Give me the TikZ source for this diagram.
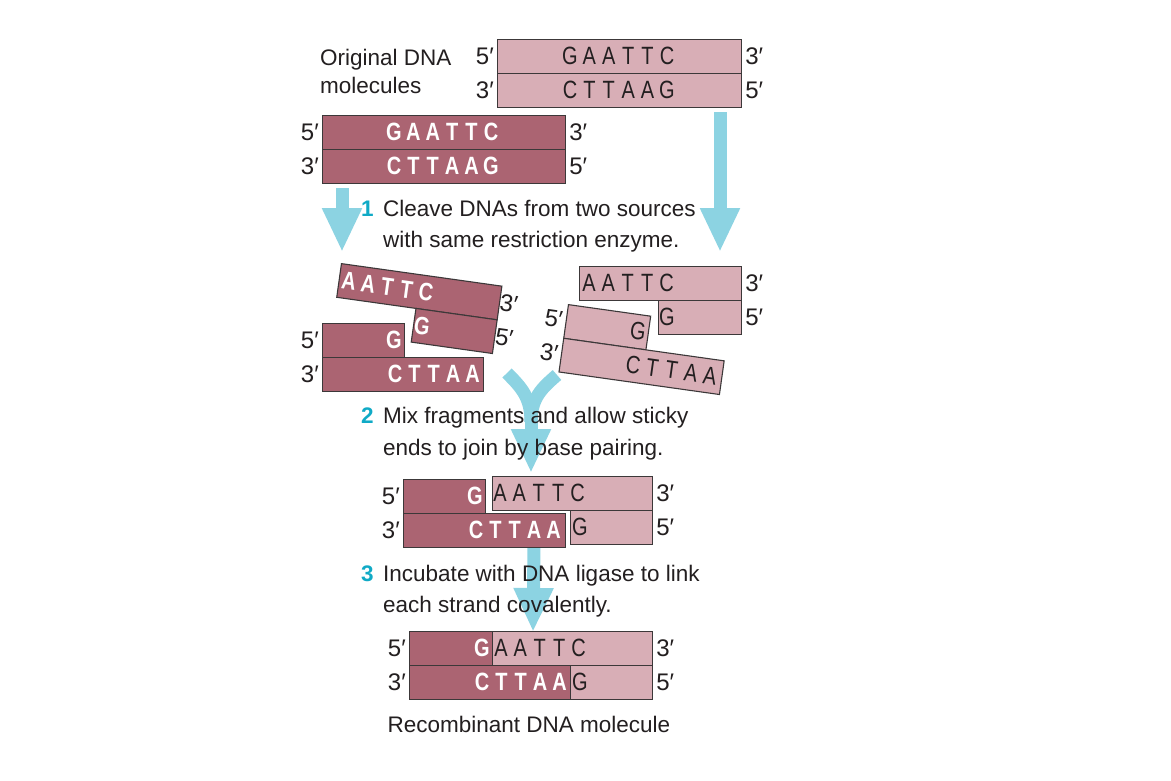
\documentclass[tikz,border=0pt]{standalone}
\usepackage{fontspec}
\setmainfont{Liberation Sans}
\newfontfamily\basefont{Liberation Sans}[FakeStretch=0.8]
\usepackage{xcolor}
\usetikzlibrary{arrows.meta, positioning}

\definecolor{dnadark}{RGB}{171,100,114}
\definecolor{dnalight}{RGB}{216,174,182}
\definecolor{flowcyan}{RGB}{140,211,226}
\definecolor{stepcyan}{RGB}{16,170,198}
\definecolor{ink}{RGB}{35,31,32}
\definecolor{edge}{RGB}{60,56,57}

% letters of a strand, 19.4pt apart
\newcommand{\bases}[5]{%
  \foreach \b [count=\i] in {#5}
    \node[#4] (#1\i) at ({#2+19.4*(\i-1)},#3) {\b};}

\begin{document}
\begin{tikzpicture}[x=1pt, y=-1pt,
    strand/.style={draw=edge, line width=1.1pt, minimum height=34pt, inner sep=0pt, anchor=north west},
    dk/.style={strand, fill=dnadark},
    lt/.style={strand, fill=dnalight},
    ltchar/.style={font=\basefont\fontsize{25}{25}\selectfont, text=ink, inner sep=0pt},
    dkchar/.style={font=\basefont\bfseries\fontsize{25}{25}\selectfont, text=white, inner sep=0pt},
    endlbl/.style={font=\fontsize{24}{24}\selectfont, text=ink, inner sep=0pt},
    caption/.style={font=\fontsize{22.5}{27}\selectfont, text=ink, inner sep=0pt, anchor=base west},
    stepno/.style={font=\bfseries\fontsize{22.5}{27}\selectfont, text=stepcyan, inner sep=0pt, anchor=base west},
    flowline/.style={draw=flowcyan, line width=13pt},
    flow/.style={flowline, -{Triangle[width=37pt,length=44pt]}}]
  \fill[white] (0,0) rectangle (1171,780);
  \useasboundingbox (0,0) rectangle (1171,780);

  % Setas
  \coordinate (cutL-from) at (342,188);
  \coordinate (cutL-to) at (342,252);
  \coordinate (cutR-from) at (720,112);
  \coordinate (cutR-to) at (720,252);
  \coordinate (mixL) at (507,373);
  \coordinate (mixR) at (557,375);
  \coordinate (mixJoin) at (531,422);
  \coordinate (mixM) at (531,412);
  \coordinate (mix-to) at (531,473);
  \coordinate (lig-from) at (534,547);
  \coordinate (lig-to) at (533,632);
  \draw[flow] (cutL-from) -- (cutL-to);
  \draw[flow] (cutR-from) -- (cutR-to);
  \draw[flowline] (mixL) .. controls (522,388) and (531,398) .. (mixJoin);
  \draw[flowline] (mixR) .. controls (542,388) and (531,398) .. (mixJoin);
  \draw[flow] (mixM) -- (mix-to);
  \draw[flow] (lig-from) -- (lig-to);

  % Moleculas originais
  \node[lt, minimum width=244pt] (b-top) at (497,39) {};
  \node[lt, minimum width=244pt] (b-bot) at (497,73) {};
  \bases{bt}{570}{56}{ltchar}{G,A,A,T,T,C}
  \bases{bb}{570}{90}{ltchar}{C,T,T,A,A,G}
  \node[endlbl, left=3pt of b-top] (b-top-l) {5′};
  \node[endlbl, left=3pt of b-bot] (b-bot-l) {3′};
  \node[endlbl, right=3pt of b-top] (b-top-r) {3′};
  \node[endlbl, right=3pt of b-bot] (b-bot-r) {5′};

  \node[dk, minimum width=243pt] (a-top) at (322,115) {};
  \node[dk, minimum width=243pt] (a-bot) at (322,149) {};
  \bases{at}{394}{132}{dkchar}{G,A,A,T,T,C}
  \bases{ab}{394}{166}{dkchar}{C,T,T,A,A,G}
  \node[endlbl, left=3pt of a-top] (a-top-l) {5′};
  \node[endlbl, left=3pt of a-bot] (a-bot-l) {3′};
  \node[endlbl, right=3pt of a-top] (a-top-r) {3′};
  \node[endlbl, right=3pt of a-bot] (a-bot-r) {5′};

  % Fragmentos
  \node[dk, minimum width=82pt] (al-top) at (322,323) {};
  \node[dk, minimum width=161pt] (al-bot) at (322,357) {};
  \bases{alt}{394}{340}{dkchar}{G}
  \bases{alb}{395}{374}{dkchar}{C,T,T,A,A}
  \node[endlbl, left=3pt of al-top] (al-top-l) {5′};
  \node[endlbl, left=3pt of al-bot] (al-bot-l) {3′};

  \begin{scope}[shift={(341,263)}, rotate=-8, transform shape]
    \node[dk, minimum width=162pt] (ar-top) at (0,0) {};
    \node[dk, minimum width=82pt] (ar-bot) at (80,34) {};
    \bases{art}{10.5}{17}{dkchar}{A,A,T,T,C}
    \bases{arb}{89}{51}{dkchar}{G}
    \node[endlbl] (ar-top-r) at (172,17) {3′};
    \node[endlbl] (ar-bot-r) at (172,51) {5′};
  \end{scope}

  \node[lt, minimum width=162pt] (br-top) at (579,266) {};
  \node[lt, minimum width=83pt] (br-bot) at (658,300) {};
  \bases{brt}{589}{283}{ltchar}{A,A,T,T,C}
  \bases{brb}{667}{317}{ltchar}{G}
  \node[endlbl, right=3pt of br-top] (br-top-r) {3′};
  \node[endlbl, right=3pt of br-bot] (br-bot-r) {5′};

  \begin{scope}[shift={(568,304)}, rotate=-8, transform shape]
    \node[lt, minimum width=83pt] (bl-top) at (0,0) {};
    \node[lt, minimum width=162pt] (bl-bot) at (0,34) {};
    \bases{blt}{73}{17}{ltchar}{G}
    \bases{blb}{73}{51}{ltchar}{C,T,T,A,A}
    \node[endlbl] (bl-top-l) at (-12,17) {5′};
    \node[endlbl] (bl-bot-l) at (-12,51) {3′};
  \end{scope}

  % Pareamento
  \node[dk, minimum width=82pt] (j-dtop) at (403,479) {};
  \node[dk, minimum width=162pt] (j-dbot) at (403,513) {};
  \node[lt, minimum width=160pt] (j-ltop) at (492,476) {};
  \node[lt, minimum width=82pt] (j-lbot) at (570,510) {};
  \bases{jdt}{475}{496}{dkchar}{G}
  \bases{jdb}{476}{530}{dkchar}{C,T,T,A,A}
  \bases{jlt}{500}{493}{ltchar}{A,A,T,T,C}
  \bases{jlb}{580}{527}{ltchar}{G}
  \node[endlbl, left=3pt of j-dtop] (j-dtop-l) {5′};
  \node[endlbl, left=3pt of j-dbot] (j-dbot-l) {3′};
  \node[endlbl, right=3pt of j-ltop] (j-ltop-r) {3′};
  \node[endlbl, right=3pt of j-lbot] (j-lbot-r) {5′};

  % Recombinante
  \node[dk, minimum width=83pt] (r-dtop) at (409,631) {};
  \node[lt, minimum width=160pt] (r-ltop) at (492,631) {};
  \node[dk, minimum width=161pt] (r-dbot) at (409,665) {};
  \node[lt, minimum width=82pt] (r-lbot) at (570,665) {};
  \bases{rdt}{482}{648}{dkchar}{G}
  \bases{rlt}{501}{648}{ltchar}{A,A,T,T,C}
  \bases{rdb}{482}{682}{dkchar}{C,T,T,A,A}
  \bases{rlb}{580}{682}{ltchar}{G}
  \node[endlbl, left=3pt of r-dtop] (r-dtop-l) {5′};
  \node[endlbl, left=3pt of r-dbot] (r-dbot-l) {3′};
  \node[endlbl, right=3pt of r-ltop] (r-ltop-r) {3′};
  \node[endlbl, right=3pt of r-lbot] (r-lbot-r) {5′};

  % Textos
  \node[caption] (orig1) at (320,65) {Original DNA};
  \node[caption] (orig2) at (320,93.5) {molecules};
  \node[stepno] (n1) at (361,216.5) {1};
  \node[caption] (s1a) at (383,216.5) {Cleave DNAs from two sources};
  \node[caption] (s1b) at (383,247) {with same restriction enzyme.};
  \node[stepno] (n2) at (361,423.5) {2};
  \node[caption] (s2a) at (383,423.5) {Mix fragments and allow sticky};
  \node[caption] (s2b) at (383,455) {ends to join by base pairing.};
  \node[stepno] (n3) at (361,581.5) {3};
  \node[caption] (s3a) at (383,581.5) {Incubate with DNA ligase to link};
  \node[caption] (s3b) at (383,612.5) {each strand covalently.};
  \node[caption, anchor=base] (rec) at (529,732) {Recombinant DNA molecule};
\end{tikzpicture}
\end{document}
